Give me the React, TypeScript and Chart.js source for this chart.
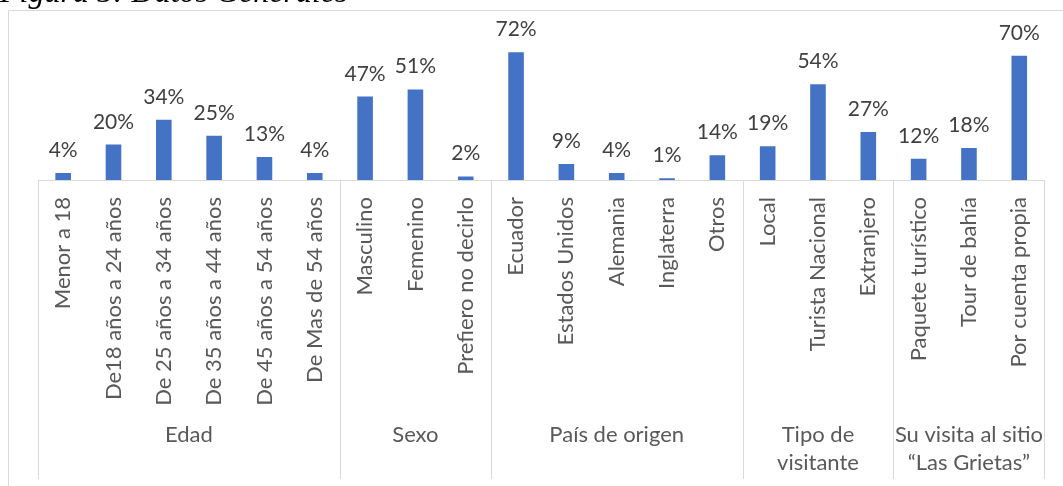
import React, { useEffect, useRef } from "react";
import { Chart, registerables } from "chart.js";

Chart.register(...registerables);

const categories = [
  "Menor a 18",
  "De18 años a 24 años",
  "De 25 años a 34 años",
  "De 35 años a 44 años",
  "De 45 años a 54 años",
  "De Mas de 54 años",
  "Masculino",
  "Femenino",
  "Prefiero no decirlo",
  "Ecuador",
  "Estados Unidos",
  "Alemania",
  "Inglaterra",
  "Otros",
  "Local",
  "Turista Nacional",
  "Extranjero",
  "Paquete turístico",
  "Tour de bahía",
  "Por cuenta propia",
];

const values = [4, 20, 34, 25, 13, 4, 47, 51, 2, 72, 9, 4, 1, 14, 19, 54, 27, 12, 18, 70];

const groupLabels: string[][] = [
  ["Edad"],
  ["Sexo"],
  ["País de origen"],
  ["Tipo de", "visitante"],
  ["Su visita al sitio", "“Las Grietas”"],
];
const groupSizes = [6, 3, 5, 3, 3];

const FONT = "Lato";
const W = 1063;
const H = 486;
const AXIS_Y = 180;

const decorPlugin = {
  id: "decor",
  beforeDraw(chart: any) {
    const ctx = chart.ctx;
    ctx.save();
    ctx.fillStyle = "#ffffff";
    ctx.fillRect(0, 0, W, H);
    ctx.strokeStyle = "#d9d9d9";
    ctx.lineWidth = 1;
    ctx.beginPath();
    ctx.moveTo(8.5, H);
    ctx.lineTo(8.5, 10.5);
    ctx.lineTo(W, 10.5);
    ctx.stroke();
    ctx.restore();
  },
  afterDraw(chart: any) {
    const ctx = chart.ctx;
    const xs = chart.scales.x;
    const area = chart.chartArea;
    ctx.save();
    ctx.strokeStyle = "#d9d9d9";
    ctx.lineWidth = 1;
    ctx.beginPath();
    ctx.moveTo(area.left, Math.round(area.bottom) + 0.5);
    ctx.lineTo(area.right, Math.round(area.bottom) + 0.5);
    ctx.stroke();
    const boundary = (k: number) => {
      if (k <= 0) return area.left;
      if (k >= categories.length) return area.right;
      return (xs.getPixelForValue(k - 1) + xs.getPixelForValue(k)) / 2;
    };
    let start = 0;
    const bounds: number[] = [0];
    groupSizes.forEach((s) => {
      start += s;
      bounds.push(start);
    });
    bounds.forEach((k) => {
      const x = Math.round(boundary(k)) + 0.5;
      ctx.beginPath();
      ctx.moveTo(x, area.bottom);
      ctx.lineTo(x, 479);
      ctx.stroke();
    });
    ctx.fillStyle = "#595959";
    ctx.font = `22px ${FONT}`;
    ctx.textAlign = "center";
    ctx.textBaseline = "middle";
    for (let g = 0; g < groupLabels.length; g++) {
      const cx = (boundary(bounds[g]) + boundary(bounds[g + 1])) / 2;
      groupLabels[g].forEach((line, i) => {
        ctx.fillText(line, cx, 435 + i * 28);
      });
    }
    const meta = chart.getDatasetMeta(0);
    ctx.fillStyle = "#404040";
    ctx.font = `21px ${FONT}`;
    ctx.textBaseline = "alphabetic";
    meta.data.forEach((bar: any, i: number) => {
      ctx.fillText(`${values[i]}%`, bar.x, bar.y - 16);
    });
    ctx.restore();
  },
};

export default function App() {
  const ref = useRef<HTMLCanvasElement | null>(null);
  useEffect(() => {
    if (!ref.current) return;
    const chart = new Chart(ref.current, {
      type: "bar",
      data: {
        labels: categories,
        datasets: [
          {
            data: values,
            backgroundColor: "#4472C4",
            borderWidth: 0,
            barPercentage: 0.31,
            categoryPercentage: 1,
          },
        ],
      },
      options: {
        animation: false,
        responsive: false,
        devicePixelRatio: 1,
        layout: { padding: { left: 38, right: 13, top: 38, bottom: 0 } },
        plugins: { legend: { display: false }, tooltip: { enabled: false } },
        scales: {
          x: {
            grid: { display: false, drawTicks: false },
            border: { display: false },
            ticks: {
              autoSkip: false,
              minRotation: 90,
              maxRotation: 90,
              padding: 17,
              color: "#595959",
              font: { family: FONT, size: 22 },
            },
            afterFit(scale: any) {
              scale.height = H - AXIS_Y;
            },
          },
          y: {
            display: false,
            min: 0,
            max: 80,
          },
        },
      },
      plugins: [decorPlugin],
    });
    return () => chart.destroy();
  }, []);
  return (
    <div
      style={{
        position: "fixed",
        left: 0,
        top: 0,
        width: W,
        height: H,
        overflow: "hidden",
        background: "#fff",
      }}
    >
      <canvas ref={ref} width={W} height={H} style={{ display: "block" }} />
      <div
        style={{
          position: "absolute",
          left: 0,
          top: -25,
          fontFamily: "'Liberation Serif', serif",
          fontStyle: "italic",
          fontSize: 32,
          lineHeight: "32px",
          color: "#000",
          whiteSpace: "nowrap",
        }}
      >
        Figura 5: Datos Generales
      </div>
    </div>
  );
}
